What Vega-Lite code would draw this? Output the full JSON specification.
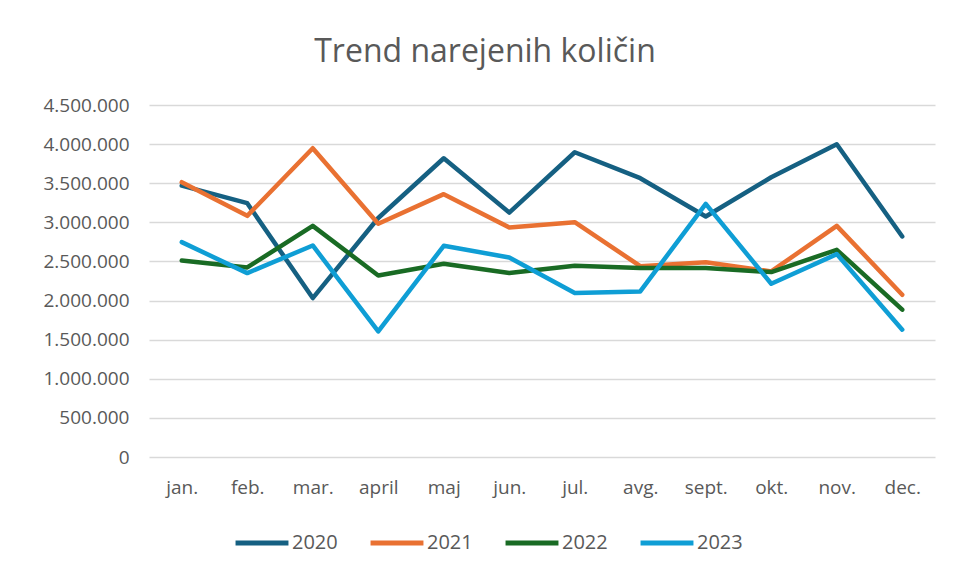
{
  "$schema": "https://vega.github.io/schema/vega-lite/v6.json",
  "width": 786,
  "height": 352,
  "autosize": {"type": "none"},
  "padding": {"left": 149, "top": 105, "right": 19, "bottom": 122},
  "background": "white",
  "config": {
    "font": "Open Sans",
    "view": {"stroke": null},
    "locale": {"number": {"decimal": ",", "thousands": ".", "grouping": [3], "currency": ["", " €"]}}
  },
  "title": {
    "text": "Trend narejenih količin",
    "fontSize": 32,
    "fontWeight": "normal",
    "color": "#595959",
    "anchor": "middle",
    "baseline": "alphabetic",
    "offset": 2,
    "dx": -57
  },
  "data": {
    "values": [
      {"mesec": "jan.", "leto": "2020", "kolicina": 3469000},
      {"mesec": "feb.", "leto": "2020", "kolicina": 3245000},
      {"mesec": "mar.", "leto": "2020", "kolicina": 2032000},
      {"mesec": "april", "leto": "2020", "kolicina": 3055000},
      {"mesec": "maj", "leto": "2020", "kolicina": 3819000},
      {"mesec": "jun.", "leto": "2020", "kolicina": 3125000},
      {"mesec": "jul.", "leto": "2020", "kolicina": 3896000},
      {"mesec": "avg.", "leto": "2020", "kolicina": 3564000},
      {"mesec": "sept.", "leto": "2020", "kolicina": 3074000},
      {"mesec": "okt.", "leto": "2020", "kolicina": 3577000},
      {"mesec": "nov.", "leto": "2020", "kolicina": 3998000},
      {"mesec": "dec.", "leto": "2020", "kolicina": 2819000},
      {"mesec": "jan.", "leto": "2021", "kolicina": 3513000},
      {"mesec": "feb.", "leto": "2021", "kolicina": 3083000},
      {"mesec": "mar.", "leto": "2021", "kolicina": 3947000},
      {"mesec": "april", "leto": "2021", "kolicina": 2981000},
      {"mesec": "maj", "leto": "2021", "kolicina": 3360000},
      {"mesec": "jun.", "leto": "2021", "kolicina": 2934000},
      {"mesec": "jul.", "leto": "2021", "kolicina": 3002000},
      {"mesec": "avg.", "leto": "2021", "kolicina": 2440000},
      {"mesec": "sept.", "leto": "2021", "kolicina": 2491000},
      {"mesec": "okt.", "leto": "2021", "kolicina": 2372000},
      {"mesec": "nov.", "leto": "2021", "kolicina": 2955000},
      {"mesec": "dec.", "leto": "2021", "kolicina": 2074000},
      {"mesec": "jan.", "leto": "2022", "kolicina": 2512000},
      {"mesec": "feb.", "leto": "2022", "kolicina": 2423000},
      {"mesec": "mar.", "leto": "2022", "kolicina": 2955000},
      {"mesec": "april", "leto": "2022", "kolicina": 2321000},
      {"mesec": "maj", "leto": "2022", "kolicina": 2470000},
      {"mesec": "jun.", "leto": "2022", "kolicina": 2351000},
      {"mesec": "jul.", "leto": "2022", "kolicina": 2445000},
      {"mesec": "avg.", "leto": "2022", "kolicina": 2415000},
      {"mesec": "sept.", "leto": "2022", "kolicina": 2415000},
      {"mesec": "okt.", "leto": "2022", "kolicina": 2364000},
      {"mesec": "nov.", "leto": "2022", "kolicina": 2649000},
      {"mesec": "dec.", "leto": "2022", "kolicina": 1883000},
      {"mesec": "jan.", "leto": "2023", "kolicina": 2747000},
      {"mesec": "feb.", "leto": "2023", "kolicina": 2351000},
      {"mesec": "mar.", "leto": "2023", "kolicina": 2704000},
      {"mesec": "april", "leto": "2023", "kolicina": 1606000},
      {"mesec": "maj", "leto": "2023", "kolicina": 2700000},
      {"mesec": "jun.", "leto": "2023", "kolicina": 2551000},
      {"mesec": "jul.", "leto": "2023", "kolicina": 2096000},
      {"mesec": "avg.", "leto": "2023", "kolicina": 2117000},
      {"mesec": "sept.", "leto": "2023", "kolicina": 3236000},
      {"mesec": "okt.", "leto": "2023", "kolicina": 2215000},
      {"mesec": "nov.", "leto": "2023", "kolicina": 2594000},
      {"mesec": "dec.", "leto": "2023", "kolicina": 1628000}
    ]
  },
  "mark": {"type": "line", "strokeWidth": 4.5, "strokeCap": "round", "strokeJoin": "round"},
  "encoding": {
    "x": {
      "field": "mesec",
      "type": "ordinal",
      "sort": ["jan.", "feb.", "mar.", "april", "maj", "jun.", "jul.", "avg.", "sept.", "okt.", "nov.", "dec."],
      "scale": {"type": "point", "padding": 0.5},
      "axis": {
        "title": null,
        "domain": false,
        "ticks": false,
        "labelAngle": 0,
        "labelFontSize": 19,
        "labelColor": "#595959",
        "labelPadding": 30,
        "labelBaseline": "middle"
      }
    },
    "y": {
      "field": "kolicina",
      "type": "quantitative",
      "scale": {"domain": [0, 4500000], "nice": false},
      "axis": {
        "title": null,
        "domain": false,
        "ticks": false,
        "values": [0, 500000, 1000000, 1500000, 2000000, 2500000, 3000000, 3500000, 4000000, 4500000],
        "format": ",d",
        "labelFontSize": 19,
        "labelColor": "#595959",
        "labelPadding": 20,
        "gridColor": "#d9d9d9",
        "gridWidth": 1.5
      }
    },
    "color": {
      "field": "leto",
      "type": "nominal",
      "scale": {"domain": ["2020", "2021", "2022", "2023"], "range": ["#156082", "#E97132", "#196B24", "#0F9ED5"]},
      "legend": {
        "title": null,
        "orient": "none",
        "legendX": 84,
        "legendY": 409,
        "direction": "horizontal",
        "symbolType": "stroke",
        "symbolSize": 2800,
        "symbolStrokeWidth": 5,
        "labelFontSize": 20,
        "labelColor": "#595959",
        "labelOffset": 1,
        "columnPadding": 22
      }
    }
  }
}
